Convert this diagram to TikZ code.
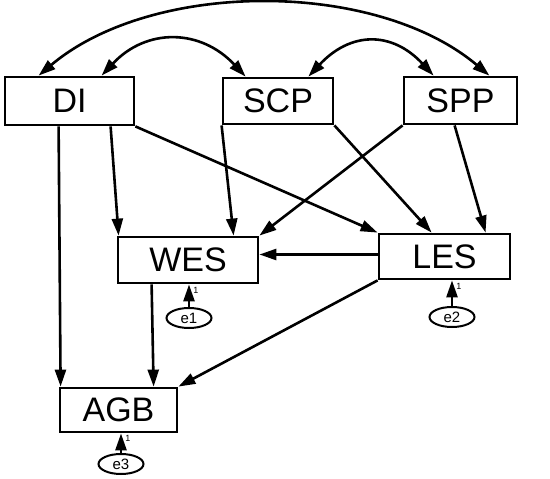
\documentclass[tikz,border=0pt]{standalone}
\usepackage{fontspec}
\setmainfont{Liberation Sans}
\usetikzlibrary{arrows.meta,shapes.geometric}
\tikzset{
  box/.style={draw,line width=2.8pt,inner sep=0pt,font=\fontsize{34}{38}\selectfont},
  err/.style={draw,ellipse,line width=2pt,inner sep=0pt,minimum width=45pt,minimum height=20pt,font=\fontsize{15}{17}\selectfont},
  ar/.style={-{Triangle[length=17pt,width=11pt]},line width=2.6pt},
  dar/.style={{Triangle[length=17pt,width=11pt]}-{Triangle[length=17pt,width=11pt]},line width=2.6pt},
  one/.style={font=\fontsize{9}{10}\selectfont,inner sep=0pt},
}
\begin{document}
\begin{tikzpicture}[x=1pt,y=-1pt]
  \useasboundingbox (0,0) rectangle (550,479);
  % observed variables
  \node[box,minimum width=129pt,minimum height=48pt] (DI) at (69.5,101) {DI};
  \node[box,minimum width=110pt,minimum height=46pt] (SCP) at (278,101) {SCP};
  \node[box,minimum width=113pt,minimum height=47pt] (SPP) at (460.5,100.5) {SPP};
  \node[box,minimum width=140pt,minimum height=46pt] (WES) at (188,260) {WES};
  \node[box,minimum width=131pt,minimum height=45pt] (LES) at (444.5,256.5) {LES};
  \node[box,minimum width=117pt,minimum height=44pt] (AGB) at (118.5,410) {AGB};
  % error terms
  \node[err] (e1) at (189,318) {e1};
  \node[err] (e2) at (452,317) {e2};
  \node[err] (e3) at (121,464) {e3};

  % covariances
  \draw[dar] ([xshift=35pt]DI.north west) .. controls +(114,-96) and +(-114,-96) .. ([xshift=-29pt]SPP.north east);
  \draw[dar] ([xshift=98pt]DI.north west) .. controls +(45,-48) and +(-45,-48) .. ([xshift=24pt]SCP.north west);
  \draw[dar] ([xshift=-26pt]SCP.north east) .. controls +(42,-45) and +(-42,-45) .. ([xshift=31pt]SPP.north west);

  % paths
  \draw[ar] ([xshift=55pt]DI.south west) -- ([xshift=2pt]AGB.north west);
  \draw[ar] ([xshift=107pt]DI.south west) -- ([xshift=2pt]WES.north west);
  \draw[ar] (DI.south east) -- (LES.north west);
  \draw[ar] (SCP.south west) -- ([xshift=117pt]WES.north west);
  \draw[ar] (SCP.south east) -- ([xshift=54pt]LES.north west);
  \draw[ar] (SPP.south west) -- (WES.north east);
  \draw[ar] ([xshift=52pt]SPP.south west) -- ([xshift=108pt]LES.north west);
  \draw[ar] ([yshift=2pt]LES.west) -- ([yshift=2pt]LES.west -| WES.east);
  \draw[ar] (LES.south west) -- (AGB.north east);
  \draw[ar] ([xshift=35pt]WES.south west) -- ([xshift=95pt]AGB.north west);

  % residuals
  \draw[ar] (e1) -- (e1 |- WES.south) node[one,pos=0.75,xshift=7pt] {1};
  \draw[ar] (e2) -- (e2 |- LES.south) node[one,pos=0.75,xshift=7pt] {1};
  \draw[ar] (e3) -- (e3 |- AGB.south) node[one,pos=0.75,xshift=7pt] {1};
\end{tikzpicture}
\end{document}
